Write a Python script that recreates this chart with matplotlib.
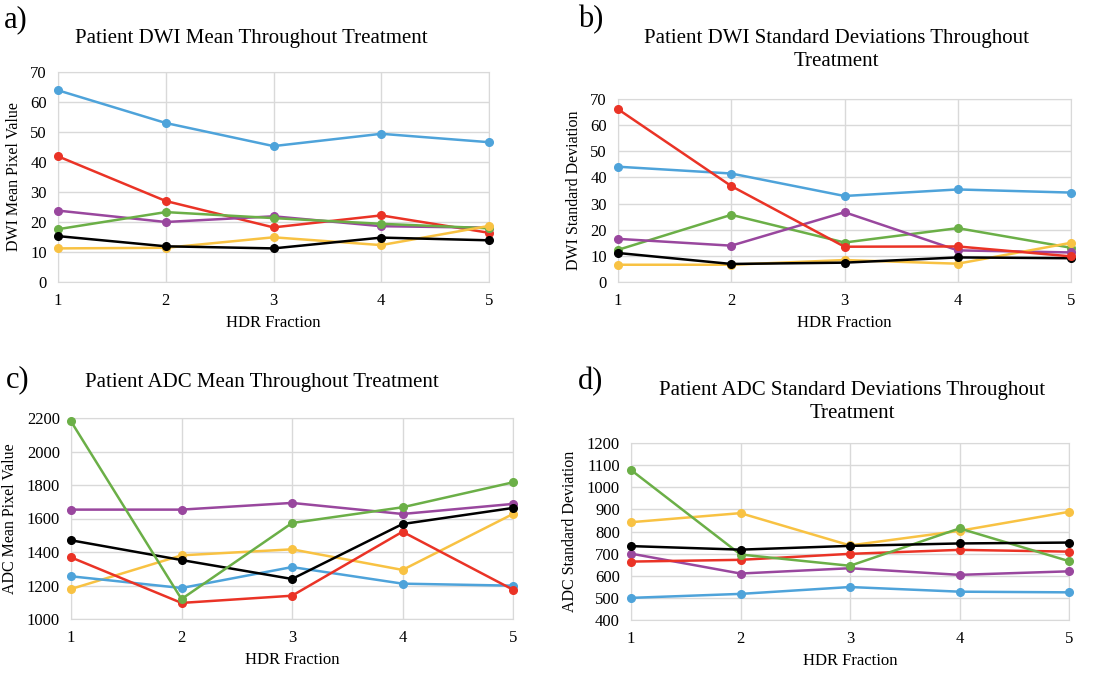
import matplotlib.pyplot as plt

plt.rcParams['font.family'] = ['Liberation Serif', 'DejaVu Serif']

fractions = [1, 2, 3, 4, 5]
colors = {'blue': '#4EA3DA', 'red': '#EA3326', 'purple': '#99479E',
          'green': '#6BAF47', 'black': '#000000', 'yellow': '#F8C243'}

# a) DWI mean
dwi_mean = {
    'blue':   [63.9, 53.0, 45.3, 49.4, 46.6],
    'red':    [41.9, 27.0, 18.2, 22.2, 16.4],
    'purple': [23.8, 20.0, 21.9, 18.6, 18.1],
    'green':  [17.6, 23.3, 21.3, 19.4, 17.9],
    'yellow': [11.2, 11.4, 14.9, 12.3, 18.7],
    'black':  [15.3, 11.9, 11.2, 14.8, 13.9],
}
# b) DWI standard deviation
dwi_std = {
    'blue':   [44.1, 41.5, 32.9, 35.4, 34.2],
    'green':  [12.3, 25.7, 15.1, 20.6, 13.1],
    'purple': [16.5, 13.9, 26.7, 12.1, 11.3],
    'yellow': [6.6, 6.6, 8.4, 7.0, 15.0],
    'black':  [11.1, 6.9, 7.4, 9.4, 9.1],
    'red':    [66.1, 36.7, 13.5, 13.6, 9.8],
}
# c) ADC mean
adc_mean = {
    'purple': [1653, 1653, 1693, 1627, 1687],
    'yellow': [1179, 1380, 1416, 1293, 1627],
    'blue':   [1255, 1185, 1310, 1211, 1199],
    'red':    [1368, 1096, 1139, 1521, 1175],
    'black':  [1470, 1352, 1239, 1567, 1663],
    'green':  [2180, 1119, 1573, 1667, 1816],
}
# d) ADC standard deviation
adc_std = {
    'blue':   [500, 518, 549, 528, 525],
    'purple': [700, 610, 634, 604, 620],
    'red':    [664, 672, 699, 717, 709],
    'yellow': [842, 883, 737, 803, 889],
    'green':  [1078, 696, 645, 814, 666],
    'black':  [734, 718, 735, 746, 750],
}

W, H = 1111, 673
fig = plt.figure(figsize=(W / 100, H / 100), dpi=100)


def px_axes(left, top, right, bottom):
    return fig.add_axes([left / W, 1 - bottom / H, (right - left) / W, (bottom - top) / H])


def draw(ax, data, ylim, ystep, ylabel):
    for key, vals in data.items():
        ax.plot(fractions, vals, color=colors[key], lw=1.8, marker='o', ms=5.5, clip_on=False, zorder=3)
    ax.set_xlim(1, 5)
    ax.set_ylim(*ylim)
    ax.set_xticks(fractions)
    ax.set_yticks(range(ylim[0], ylim[1] + 1, ystep))
    ax.grid(True, color='#d9d9d9', lw=1)
    ax.set_axisbelow(True)
    for s in ax.spines.values():
        s.set_color('#d9d9d9')
    ax.tick_params(length=0, labelsize=12, pad=8)
    ax.set_xlabel('HDR Fraction', fontsize=12, labelpad=4)
    ax.set_ylabel(ylabel, fontsize=11.5, labelpad=6)


ax_a = px_axes(58, 72, 489, 282)
draw(ax_a, dwi_mean, (0, 70), 10, 'DWI Mean Pixel Value')
ax_b = px_axes(618, 99, 1071, 282)
draw(ax_b, dwi_std, (0, 70), 10, 'DWI Standard Deviation')
ax_c = px_axes(71, 418, 513, 619)
draw(ax_c, adc_mean, (1000, 2200), 200, 'ADC Mean Pixel Value')
ax_d = px_axes(631, 443, 1069, 620)
draw(ax_d, adc_std, (400, 1200), 100, 'ADC Standard Deviation')


def ftext(x, y, s, **kw):
    fig.text(x / W, 1 - y / H, s, **kw)


ftext(4, 20, 'a)', fontsize=22, va='center', ha='left')
ftext(578, 20, 'b)', fontsize=22, va='center', ha='left')
ftext(6, 380, 'c)', fontsize=22, va='center', ha='left')
ftext(578, 382, 'd)', fontsize=22, va='center', ha='left')

ftext(251, 38, 'Patient DWI Mean Throughout Treatment', fontsize=15, ha='center', va='center')
ftext(836, 50, 'Patient DWI Standard Deviations Throughout\nTreatment', fontsize=15,
      ha='center', va='center', linespacing=1.35)
ftext(262, 383, 'Patient ADC Mean Throughout Treatment', fontsize=15, ha='center', va='center')
ftext(852, 402, 'Patient ADC Standard Deviations Throughout\nTreatment', fontsize=15,
      ha='center', va='center', linespacing=1.35)

fig.savefig('out.png', dpi=100, facecolor='white')
